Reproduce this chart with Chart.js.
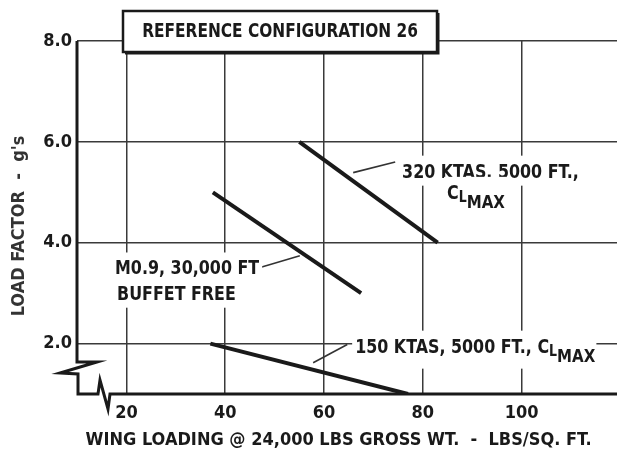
<!DOCTYPE html>
<html>
<head>
<meta charset="utf-8">
<script src="https://cdn.jsdelivr.net/npm/chart.js@4.4.1/dist/chart.umd.min.js"></script>
<style>
  html, body { margin: 0; padding: 0; background: #fff; }
  canvas { display: block; }
</style>
</head>
<body>
<canvas id="chart" width="617" height="455"></canvas>
<script>
// wing loading (lbs/sq ft) and load factor (g) for each boundary
const xTicks = [20, 40, 60, 80, 100];
const yTicks = [2, 4, 6, 8];
const ktas320Wing = [55, 83];
const ktas320Load = [6.0, 4.0];
const mach09Wing = [37.5, 67.5];
const mach09Load = [5.0, 3.0];
const ktas150Wing = [37, 77];
const ktas150Load = [2.0, 1.0];

const FONT = '"Liberation Sans Narrow", "DejaVu Sans Condensed", "Roboto", sans-serif';
const INK = '#1a1a1a';

const toPoints = (xs, ys) => xs.map((x, i) => ({ x: x, y: ys[i] }));

// callout text, anchored in data units
const notes = [
  { text: '320 KTAS, 5000 FT.,', x: 75.8, y: 5.29 },
  { text: '', clmaxAfter: true, x: 84.9, y: 4.87 },
  { text: 'M0.9, 30,000 FT', x: 17.7, y: 3.37 },
  { text: 'BUFFET FREE', x: 18.1, y: 2.87 },
  { text: '150 KTAS, 5000 FT., ', x: 66.3, y: 1.82, clmaxAfter: true }
];
const leaders = [
  [74.4, 5.60, 65.9, 5.39],
  [47.4, 3.52, 55.1, 3.74],
  [64.7, 1.98, 57.8, 1.62]
];

// text squeezed horizontally to get the narrow lettering
function narrowText(ctx, text, x, y, sx) {
  ctx.save();
  ctx.translate(x, y);
  ctx.scale(sx, 1);
  ctx.fillText(text, 0, 0);
  ctx.restore();
  return ctx.measureText(text).width * sx;
}

function drawClmax(ctx, x, base, sx) {
  ctx.textAlign = 'left';
  ctx.textBaseline = 'alphabetic';
  ctx.font = 'bold 19px ' + FONT;
  x += narrowText(ctx, 'C', x, base, sx);
  ctx.font = 'bold 15px ' + FONT;
  x += narrowText(ctx, 'L', x, base + 3, sx);
  ctx.font = 'bold 18px ' + FONT;
  x += narrowText(ctx, 'MAX', x, base + 9, sx);
  return x;
}

const decor = {
  id: 'decor',
  afterDraw(chart) {
    const { ctx, chartArea: a, scales: { x, y } } = chart;
    const sx = 0.93;
    ctx.save();

    // axes with break marks at the lower left corner
    ctx.strokeStyle = INK;
    ctx.lineWidth = 3;
    ctx.lineJoin = 'miter';
    ctx.beginPath();
    ctx.moveTo(a.left, a.top);
    ctx.lineTo(a.left, a.bottom - 32);
    ctx.lineTo(a.left + 20, a.bottom - 32);
    ctx.lineTo(a.left - 17, a.bottom - 21);
    ctx.lineTo(a.left + 1, a.bottom - 20);
    ctx.lineTo(a.left + 1, a.bottom);
    ctx.lineTo(a.left + 21, a.bottom);
    ctx.lineTo(a.left + 23, a.bottom - 14);
    ctx.lineTo(a.left + 31, a.bottom + 15);
    ctx.lineTo(a.left + 33, a.bottom);
    ctx.lineTo(a.right, a.bottom);
    ctx.stroke();

    // leader lines
    ctx.lineWidth = 1.6;
    ctx.strokeStyle = '#333';
    leaders.forEach(l => {
      ctx.beginPath();
      ctx.moveTo(x.getPixelForValue(l[0]), y.getPixelForValue(l[1]));
      ctx.lineTo(x.getPixelForValue(l[2]), y.getPixelForValue(l[3]));
      ctx.stroke();
    });

    // callout labels on white ground
    notes.forEach(n => {
      const px = x.getPixelForValue(n.x);
      const py = y.getPixelForValue(n.y);
      ctx.font = 'bold 19px ' + FONT;
      const w = ctx.measureText(n.text).width * sx + (n.clmaxAfter ? 56 : 0);
      ctx.fillStyle = '#fff';
      ctx.fillRect(px - 3, py - 22, w + 6, n.clmaxAfter ? 38 : 30);
      ctx.fillStyle = INK;
      ctx.textAlign = 'left';
      ctx.textBaseline = 'alphabetic';
      const tw = narrowText(ctx, n.text, px, py, sx);
      if (n.clmaxAfter) drawClmax(ctx, px + tw, py, sx);
    });

    // framed heading over the plot
    const bx = a.left + 46, by = a.top - 30, bw = 314, bh = 41;
    ctx.fillStyle = '#fff';
    ctx.fillRect(bx, by, bw, bh);
    ctx.strokeStyle = INK;
    ctx.lineWidth = 2.5;
    ctx.strokeRect(bx, by, bw, bh);
    ctx.lineWidth = 2;
    ctx.beginPath();
    ctx.moveTo(bx + 2, by + bh + 1.5);
    ctx.lineTo(bx + bw + 1.5, by + bh + 1.5);
    ctx.lineTo(bx + bw + 1.5, by + 2);
    ctx.stroke();
    ctx.fillStyle = INK;
    ctx.font = 'bold 19px ' + FONT;
    ctx.textAlign = 'left';
    ctx.textBaseline = 'middle';
    const head = 'REFERENCE CONFIGURATION 26';
    const hw = ctx.measureText(head).width * 0.9;
    narrowText(ctx, head, bx + (bw - hw) / 2, by + bh / 2 + 1, 0.9);

    ctx.restore();
  }
};

const lineStyle = {
  borderColor: INK,
  borderWidth: 4,
  borderCapStyle: 'butt',
  pointRadius: 0,
  fill: false,
  tension: 0
};

new Chart(document.getElementById('chart'), {
  type: 'line',
  data: {
    datasets: [
      Object.assign({ label: '320 KTAS, 5000 FT., CLMAX', data: toPoints(ktas320Wing, ktas320Load) }, lineStyle),
      Object.assign({ label: 'M0.9, 30,000 FT BUFFET FREE', data: toPoints(mach09Wing, mach09Load) }, lineStyle),
      Object.assign({ label: '150 KTAS, 5000 FT., CLMAX', data: toPoints(ktas150Wing, ktas150Load) }, lineStyle)
    ]
  },
  options: {
    responsive: false,
    animation: false,
    devicePixelRatio: 1,
    layout: { padding: { top: 41, right: 0, left: 0, bottom: 0 } },
    plugins: { legend: { display: false }, tooltip: { enabled: false } },
    scales: {
      x: {
        type: 'linear',
        min: 10,
        max: 119.3,
        afterBuildTicks: s => { s.ticks = xTicks.map(v => ({ value: v })); },
        afterFit: s => { s.height = 61; },
        border: { display: false },
        grid: { color: '#3a3a3a', lineWidth: 1.5, drawTicks: false },
        ticks: { color: INK, padding: 9, font: { family: FONT, size: 18, weight: 'bold' } },
        title: {
          display: true,
          text: 'WING LOADING @ 24,000 LBS GROSS WT.  -  LBS/SQ. FT.   ',
          color: INK,
          padding: { top: 0, bottom: 4 },
          font: { family: FONT, size: 18, weight: 'bold' }
        }
      },
      y: {
        min: 1,
        max: 8,
        afterBuildTicks: s => { s.ticks = yTicks.map(v => ({ value: v })); },
        afterFit: s => { s.width = 77; },
        border: { display: false },
        grid: { color: '#3a3a3a', lineWidth: 1.5, drawTicks: false },
        ticks: {
          color: INK,
          padding: 5,
          font: { family: FONT, size: 18, weight: 'bold' },
          callback: v => v.toFixed(1)
        },
        title: {
          display: true,
          text: "LOAD FACTOR  -  g's   ",
          color: '#333',
          padding: { top: 9, bottom: 0 },
          font: { family: FONT, size: 18, weight: 'bold' }
        }
      }
    }
  },
  plugins: [decor]
});
</script>
</body>
</html>
